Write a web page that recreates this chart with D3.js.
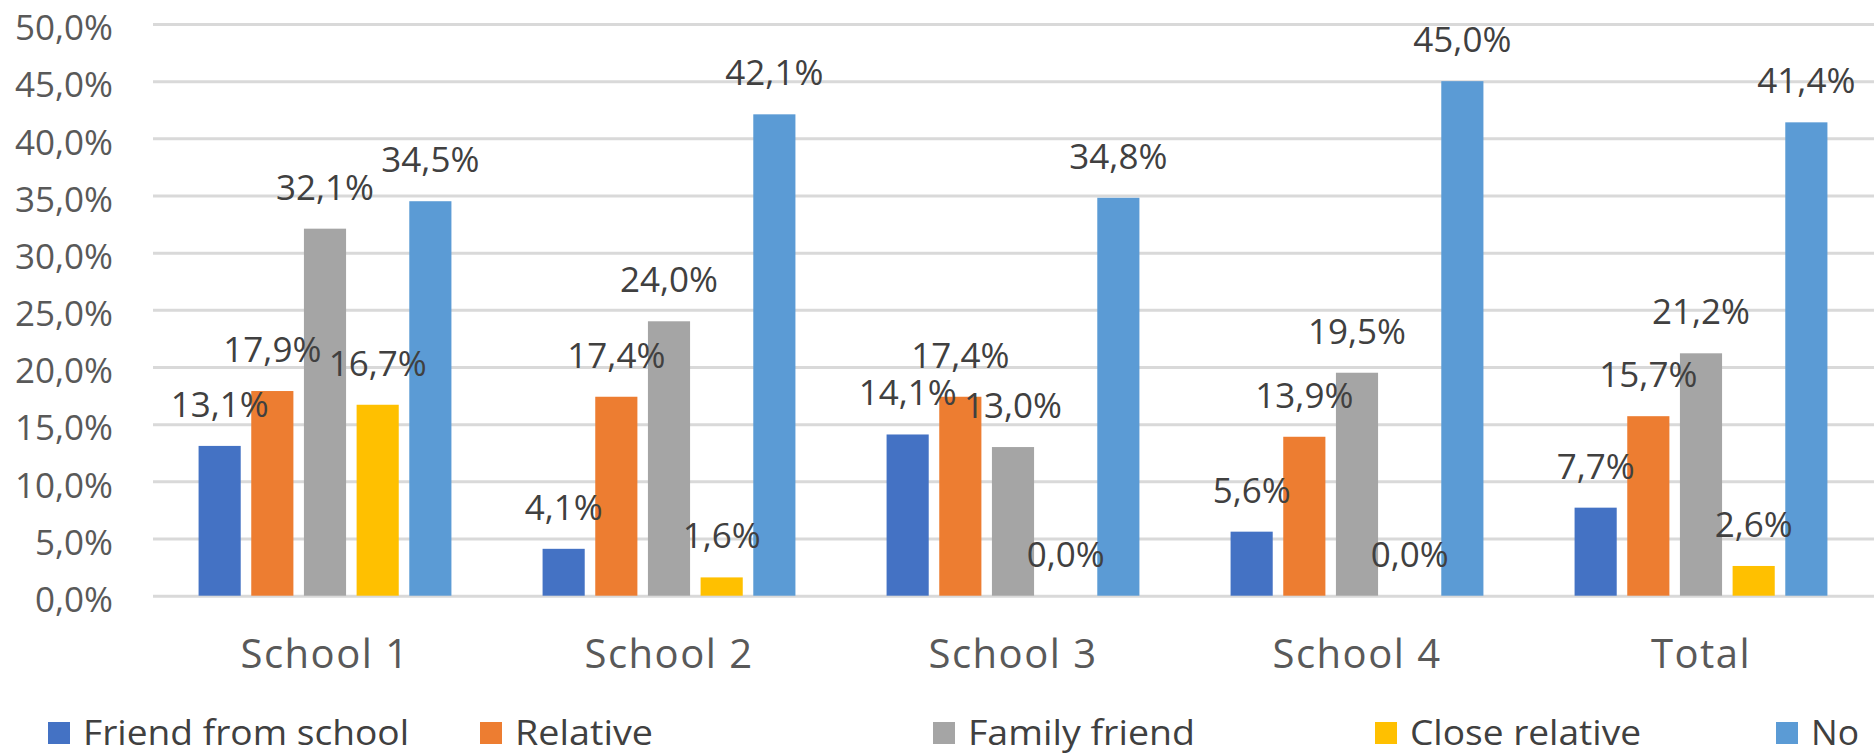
<!DOCTYPE html>
<html>
<head>
<meta charset="utf-8">
<script src="https://cdn.jsdelivr.net/npm/d3@7"></script>
<style>
  html, body { margin: 0; padding: 0; background: #ffffff; }
  svg { display: block; }
</style>
</head>
<body>
<svg id="chart" width="1874" height="756"></svg>
<script>
// ---- Data ----
const categories = ["School 1", "School 2", "School 3", "School 4", "Total"];
const seriesNames = ["Friend from school", "Relative", "Family friend", "Close relative", "No"];
const friendFromSchool = [13.1, 4.1, 14.1, 5.6, 7.7];
const relative = [17.9, 17.4, 17.4, 13.9, 15.7];
const familyFriend = [32.1, 24.0, 13.0, 19.5, 21.2];
const closeRelative = [16.7, 1.6, 0.0, 0.0, 2.6];
const noAnswer = [34.5, 42.1, 34.8, 45.0, 41.4];
const yTicks = [0, 5, 10, 15, 20, 25, 30, 35, 40, 45, 50];
const colors = ["#4472C4", "#ED7D31", "#A5A5A5", "#FFC000", "#5B9BD5"];

const seriesValues = [friendFromSchool, relative, familyFriend, closeRelative, noAnswer];

// ---- Layout ----
const W = 1874, H = 756;
const plotLeft = 153, plotRight = 1873;
const plotTop = 24, plotBottom = 595.7;

const svg = d3.select("#chart");
const loc = d3.formatLocale({ decimal: ",", thousands: ".", grouping: [3], currency: ["", "€"] });
const fmt = v => loc.format(".1f")(v) + "%";

const x0 = d3.scaleBand().domain(categories).range([plotLeft, plotRight])
  .paddingInner(0.265).paddingOuter(0.1325);
const x1 = d3.scaleBand().domain(seriesNames).range([0, x0.bandwidth()]).paddingInner(0.2);
const y = d3.scaleLinear().domain([0, 50]).range([plotBottom, plotTop]);

const numFont = "'Open Sans', 'Noto Sans', sans-serif";
const labFont = "'Open Sans', 'Noto Sans', sans-serif";

// y axis + gridlines
const yAxis = d3.axisLeft(y).tickValues(yTicks).tickFormat(fmt)
  .tickSize(-(W - plotLeft)).tickPadding(40);
const gy = svg.append("g").attr("transform", `translate(${plotLeft},0)`).call(yAxis);
gy.select(".domain").remove();
gy.selectAll(".tick line").attr("stroke", "#d9d9d9").attr("stroke-width", 3);
gy.selectAll(".tick text")
  .attr("font-family", numFont).attr("font-size", 35)
  .attr("fill", "#595959").attr("dy", "0.45em");

// bars
const rows = categories.map((c, i) => ({ cat: c, vals: seriesNames.map((s, j) => ({ s, j, v: seriesValues[j][i] })) }));
const groups = svg.append("g").selectAll("g").data(rows).join("g")
  .attr("transform", d => `translate(${x0(d.cat)},0)`);
groups.selectAll("rect").data(d => d.vals).join("rect")
  .attr("x", d => x1(d.s)).attr("width", x1.bandwidth())
  .attr("y", d => y(d.v)).attr("height", d => y(0) - y(d.v))
  .attr("fill", d => colors[d.j]);

// data labels
groups.selectAll("text.lbl").data(d => d.vals).join("text")
  .attr("class", "lbl")
  .attr("x", d => x1(d.s) + x1.bandwidth() / 2)
  .attr("y", d => y(d.v) - 29)
  .attr("text-anchor", "middle")
  .attr("font-family", numFont).attr("font-size", 35)
  .attr("fill", "#404040")
  .text(d => fmt(d.v));

// x axis labels
const xAxis = d3.axisBottom(x0).tickSize(0).tickPadding(0);
const gx = svg.append("g").attr("transform", `translate(0,${plotBottom})`).call(xAxis);
gx.select(".domain").remove();
gx.selectAll(".tick text")
  .attr("y", 72).attr("dy", 0)
  .attr("font-family", labFont).attr("font-size", 40)
  .attr("letter-spacing", 1.5)
  .attr("fill", "#595959");

// legend
const legendX = [48, 480, 933, 1375, 1776];
const legendW = [326, 138, 227, 231, 48];
const leg = svg.append("g").selectAll("g").data(seriesNames).join("g")
  .attr("transform", (d, i) => `translate(${legendX[i]},0)`);
leg.append("rect").attr("x", 0).attr("y", 722).attr("width", 22).attr("height", 22)
  .attr("fill", (d, i) => colors[i]);
leg.append("text").attr("x", 35).attr("y", 745)
  .attr("font-family", labFont).attr("font-size", 34)
  .attr("fill", "#404040")
  .attr("textLength", (d, i) => legendW[i]).attr("lengthAdjust", "spacingAndGlyphs")
  .text(d => d);
</script>
</body>
</html>
